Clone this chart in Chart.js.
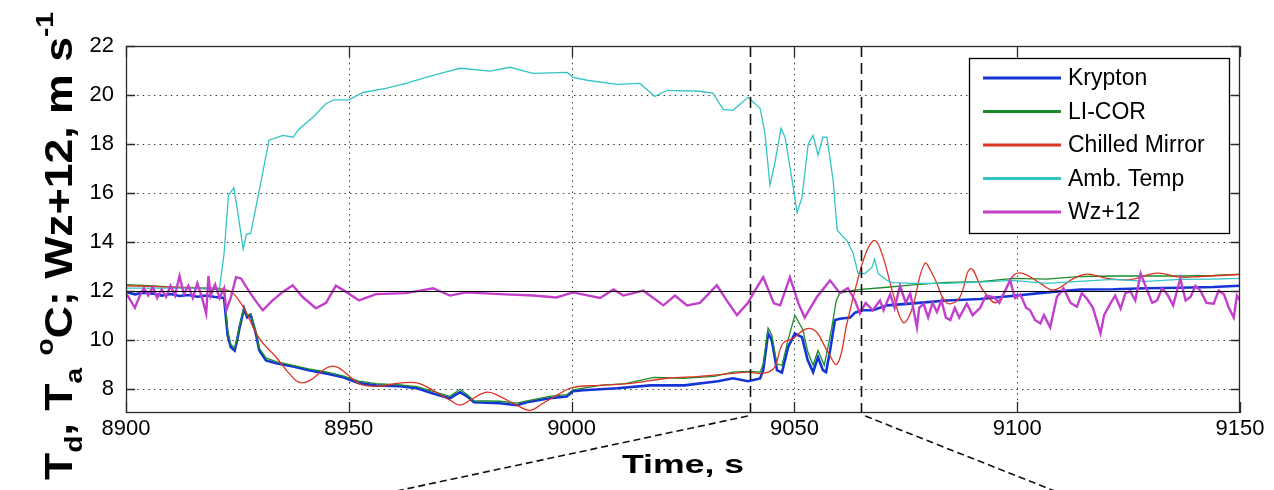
<!DOCTYPE html>
<html>
<head>
<meta charset="utf-8">
<script src="https://cdn.jsdelivr.net/npm/chart.js@4.4.1/dist/chart.umd.min.js"></script>
<style>
  html, body { margin: 0; padding: 0; background: #fff; }
  #wrap { width: 1274px; height: 490px; }
</style>
</head>
<body>
<div id="wrap"><canvas id="chart" width="1274" height="490"></canvas></div>
<script>
// axis ticks
const xTickValues = [8900, 8950, 9000, 9050, 9100, 9150];
const yTickValues = [8, 10, 12, 14, 16, 18, 20, 22];

// zoom window and reference level
const zoomWindow = [9040, 9065];
const refLevel = 12;

const seriesNames = ["Krypton", "LI-COR", "Chilled Mirror", "Amb. Temp", "Wz+12"];
const seriesColors = ["#1434d6", "#1b8c2b", "#dd3322", "#33c5c5", "#c23fcc"];

// Krypton hygrometer dew point
const kryptonTime = [8900, 8902, 8904, 8906, 8908, 8910, 8912, 8914, 8916, 8918,
  8920, 8922, 8922.8, 8923.5, 8924.4, 8925, 8925.5, 8926.5, 8927.2, 8928,
  8929.2, 8929.9, 8931.4, 8933.7, 8937.5, 8941, 8944.9, 8948.7, 8952.3, 8956.1,
  8961.5, 8965.3, 8968.9, 8972.7, 8974, 8975, 8976.6, 8978.1, 8983.9, 8987.7,
  8990, 8995.1, 8998.9, 9000.3, 9002.6, 9010.2, 9017.7, 9025.3, 9032.8, 9036.2,
  9039.6, 9042.3, 9043, 9044.1, 9044.9, 9046.1, 9047.2, 9048.6, 9050.1, 9051.7,
  9053, 9054.2, 9055.3, 9056.4, 9057.1, 9058, 9059.1, 9060.2, 9062.5, 9063.6,
  9065.2, 9067.6, 9070.8, 9076.6, 9084.2, 9091.7, 9099.9, 9106.7, 9114.2, 9121.6,
  9129, 9136.5, 9144, 9150];
const kryptonTemp = [11.95, 11.85, 11.92, 11.88, 11.8, 11.86, 11.78, 11.82, 11.75, 11.8,
  11.74, 11.7, 10.2, 9.7, 9.55, 10.04, 10.5, 11.27, 10.9, 11.0,
  10.2, 9.56, 9.15, 9.03, 8.9, 8.75, 8.62, 8.46, 8.22, 8.13,
  8.1, 8.01, 7.8, 7.6, 7.75, 7.85, 7.67, 7.44, 7.4, 7.32,
  7.44, 7.6, 7.67, 7.89, 7.93, 8.01, 8.13, 8.13, 8.3, 8.42,
  8.3, 8.41, 8.75, 10.25, 10.0, 8.75, 8.65, 9.7, 10.25, 10.1,
  9.15, 8.67, 9.28, 8.75, 8.67, 9.55, 10.8, 10.85, 10.9, 11.1,
  11.2, 11.2, 11.4, 11.48, 11.6, 11.66, 11.8, 11.93, 12.05, 12.06,
  12.1, 12.12, 12.15, 12.2];

// LI-COR dew point
const licorTime = [8900, 8905, 8910, 8915, 8920, 8922, 8922.8, 8923.5, 8924.4, 8925,
  8925.5, 8926.5, 8927.2, 8928, 8929.2, 8929.9, 8931.4, 8933.7, 8937.5, 8941,
  8944.9, 8948.7, 8952.3, 8956.1, 8961.5, 8965.3, 8968.9, 8972.7, 8974, 8975,
  8976.6, 8978.1, 8983.9, 8987.7, 8990, 8995.1, 8998.9, 9000.3, 9006.4, 9012,
  9018.5, 9025, 9032, 9036.2, 9039.6, 9042.3, 9043, 9044.1, 9044.9, 9046.1,
  9047.2, 9048.6, 9050.1, 9051.9, 9053, 9054.2, 9055.3, 9056.7, 9058.3, 9059.4,
  9060.2, 9062.7, 9065, 9070.8, 9076.6, 9084.2, 9091.7, 9099.2, 9106.7, 9114.2,
  9121.6, 9129, 9136.5, 9144, 9150];
const licorTemp = [12.25, 12.2, 12.15, 12.1, 12.05, 12.0, 10.4, 9.8, 9.65, 10.1,
  10.6, 11.3, 11.0, 11.05, 10.3, 9.65, 9.25, 9.1, 8.95, 8.8,
  8.68, 8.52, 8.3, 8.2, 8.15, 8.08, 7.88, 7.68, 7.85, 7.97,
  7.75, 7.5, 7.48, 7.4, 7.5, 7.68, 7.75, 7.95, 8.13, 8.2,
  8.46, 8.42, 8.5, 8.67, 8.7, 8.67, 9.0, 10.47, 10.2, 9.0,
  8.95, 10.0, 11.0, 10.4, 9.5, 8.95, 9.56, 8.95, 10.4, 11.6,
  11.9, 12.0, 12.05, 12.14, 12.24, 12.34, 12.37, 12.5, 12.47, 12.58,
  12.6, 12.6, 12.6, 12.62, 12.68];

// chilled mirror dew point
const mirrorTime = [8900, 8910, 8920, 8922, 8924, 8926.5, 8929.9, 8933.7, 8936.6, 8938.8,
  8941, 8944.9, 8947.1, 8949.4, 8952.3, 8956, 8961.5, 8965.3, 8968.9, 8972.7,
  8975, 8977.2, 8981, 8983.9, 8987.7, 8990.7, 8993.6, 8997.4, 9000.3, 9006.4,
  9013.8, 9021.4, 9028.8, 9036.2, 9039.6, 9043, 9045.4, 9047.4, 9049.7, 9052.8,
  9055, 9057.3, 9059.6, 9061.8, 9064, 9066.3, 9068.1, 9069.9, 9072.1, 9074.4,
  9076.3, 9079.2, 9081.2, 9084.2, 9087, 9089.5, 9092.4, 9095.4, 9099.2, 9101.4,
  9105.2, 9108.2, 9112.7, 9115.7, 9120.2, 9125.4, 9131.4, 9136.6, 9141.1, 9150];
const mirrorTemp = [12.2, 12.15, 12.1, 12.05, 11.9, 11.27, 10.05, 9.28, 8.62, 8.26,
  8.3, 8.83, 8.9, 8.62, 8.2, 8.09, 8.22, 8.23, 7.93, 7.52,
  7.32, 7.52, 7.85, 7.68, 7.32, 7.11, 7.4, 7.8, 8.05, 8.13,
  8.22, 8.42, 8.5, 8.62, 8.67, 8.62, 8.83, 9.84, 10.05, 10.45,
  10.3, 9.56, 9.0, 10.66, 12.3, 13.65, 14.05, 13.37, 11.9, 10.7,
  11.2, 13.1, 12.6, 11.5, 11.7, 12.9, 12.0, 11.52, 12.63, 12.7,
  12.3, 12.03, 12.5, 12.68, 12.5, 12.45, 12.72, 12.55, 12.58, 12.66];

// ambient temperature
const ambTime = [8900, 8910, 8921, 8922, 8923, 8924.2, 8925, 8926.3, 8927, 8928,
  8929.9, 8932.1, 8935.2, 8937.5, 8938.8, 8942, 8944.9, 8946.7, 8950, 8953.2,
  8958.3, 8962.8, 8967.3, 8971, 8975, 8981.7, 8986.2, 8991.3, 8999, 9000.3,
  9003.5, 9010.2, 9015.3, 9018.7, 9021.4, 9028.8, 9031.7, 9034, 9036.2, 9039.6,
  9042.3, 9043.4, 9044.5, 9045.6, 9047, 9047.9, 9049.5, 9050.6, 9051.7, 9053.1,
  9054.2, 9055.3, 9056.4, 9057.3, 9058.7, 9059.6, 9061.8, 9063.2, 9064.3, 9065.8,
  9067.4, 9068, 9068.8, 9070.8, 9072, 9076.6, 9084.2, 9091.7, 9099, 9106.7,
  9114, 9121.5, 9129, 9136.5, 9144, 9150];
const ambTemp = [12.1, 12.1, 12.1, 13.5, 15.9, 16.2, 15.3, 13.7, 14.3, 14.35,
  16.1, 18.15, 18.35, 18.27, 18.6, 19.1, 19.65, 19.8, 19.8, 20.1,
  20.27, 20.47, 20.72, 20.9, 21.09, 20.97, 21.13, 20.88, 20.92, 20.72,
  20.6, 20.43, 20.47, 19.94, 20.19, 20.15, 20.07, 19.41, 19.37, 19.9,
  19.45, 18.43, 16.3, 17.2, 18.64, 18.27, 16.5, 15.2, 15.8, 18.0,
  18.35, 17.53, 18.27, 18.27, 16.5, 14.47, 14.05, 13.52, 12.7, 12.7,
  12.95, 13.3, 12.7, 12.42, 12.33, 12.3, 12.3, 12.35, 12.42, 12.3,
  12.38, 12.46, 12.38, 12.46, 12.47, 12.5];

// vertical wind + 12
const wzTime = [8900, 8901, 8902, 8903, 8904, 8905, 8906, 8907, 8908, 8909,
  8910, 8911, 8912, 8913, 8914, 8915, 8916, 8917, 8918, 8918.5,
  8919, 8920, 8921, 8922, 8922.5, 8923.5, 8924.7, 8925.8, 8927.7, 8929.5,
  8930.7, 8932.9, 8935.2, 8937.4, 8939.6, 8942.6, 8944.9, 8947.1, 8949.4, 8952.3,
  8956.1, 8962.8, 8966, 8968.9, 8972.7, 8976.3, 8983.9, 8991.4, 8996.6, 9000.3,
  9006.4, 9009.4, 9011.6, 9016.1, 9020.6, 9023.2, 9025.9, 9028.8, 9032.6, 9034.8,
  9037.1, 9039.6, 9040.8, 9043, 9045.4, 9046.8, 9049, 9050.9, 9052.3, 9055,
  9058, 9060.2, 9062, 9063.6, 9064.7, 9066, 9067.6, 9069.2, 9070, 9071.5,
  9072.5, 9073.7, 9075, 9076, 9077.5, 9078, 9079, 9080, 9081, 9082,
  9083, 9084, 9085, 9086, 9087, 9088.7, 9090, 9091.7, 9093, 9094.7,
  9096, 9098.4, 9099.5, 9100.7, 9102, 9102.9, 9104, 9105.2, 9106, 9107.4,
  9108.9, 9110.4, 9112, 9113.4, 9114.5, 9115.7, 9117, 9118.7, 9119.5, 9120.9,
  9122, 9123.2, 9124.3, 9125.4, 9126.5, 9127.7, 9129.2, 9130.3, 9131.4, 9132.5,
  9133.7, 9135, 9136.6, 9137.8, 9138.9, 9140, 9141.1, 9142.5, 9144.1, 9145.2,
  9146.4, 9147.5, 9148.6, 9149.3, 9150];
const wzValue = [11.9, 11.6, 11.3, 11.75, 12.1, 11.8, 12.15, 11.7, 12.05, 11.75,
  12.2, 11.8, 12.6, 11.85, 12.2, 11.7, 12.3, 11.75, 11.07, 12.6,
  11.8, 12.25, 11.7, 12.1, 11.2, 11.7, 12.55, 12.5, 11.95, 11.48,
  11.2, 11.6, 11.95, 12.22, 11.75, 11.28, 11.5, 12.2, 11.95, 11.6,
  11.86, 11.9, 12.0, 12.1, 11.8, 11.93, 11.86, 11.8, 11.72, 11.93,
  11.7, 12.05, 11.8, 12.0, 11.4, 11.8, 11.4, 11.5, 12.22, 11.6,
  11.0, 11.5, 11.9, 12.55, 11.48, 11.4, 12.55, 11.48, 10.9, 11.73,
  12.42, 11.9, 12.1, 11.6, 11.07, 11.5, 11.2, 11.6, 11.2, 11.85,
  11.3, 12.2, 11.5, 11.9, 10.5, 11.3, 11.47, 10.9, 11.5, 11.13,
  11.6, 10.9, 10.8, 11.3, 10.9, 11.47, 11.0, 11.3, 11.8, 11.74,
  11.5, 12.42, 11.7, 11.85, 11.3, 11.2, 10.8, 10.66, 11.0, 10.5,
  11.74, 12.1, 11.5, 11.34, 11.9, 11.66, 11.3, 10.25, 11.0, 11.47,
  11.8, 11.27, 11.9, 11.98, 11.6, 12.7, 12.0, 11.5, 11.6, 12.1,
  11.85, 11.4, 12.5, 11.6, 11.74, 12.2, 12.0, 11.5, 11.47, 12.0,
  11.85, 11.3, 10.9, 11.8, 11.6];

const toPoints = (times, values) => times.map((t, i) => ({ x: t, y: values[i] }));

const seriesData = [
  toPoints(kryptonTime, kryptonTemp),
  toPoints(licorTime, licorTemp),
  toPoints(mirrorTime, mirrorTemp),
  toPoints(ambTime, ambTemp),
  toPoints(wzTime, wzValue)
];
const seriesWidths = [2.6, 1.3, 1.3, 1.3, 2.4];
const seriesTension = [0, 0, 0.4, 0, 0];
// later series sit on top, as in the original plot order
const seriesOrder = [5, 4, 3, 2, 1];

const FONT = "'Liberation Sans', Arial, Helvetica, sans-serif";

// draws a run list of [text, size, shift] along the current x direction
function drawRuns(ctx, runs) {
  let pos = 0;
  runs.forEach(([text, size, shift]) => {
    ctx.font = `bold ${size}px ${FONT}`;
    ctx.fillText(text, pos, shift);
    pos += ctx.measureText(text).width;
  });
  return pos;
}
function runsWidth(ctx, runs) {
  let w = 0;
  runs.forEach(([text, size]) => {
    ctx.font = `bold ${size}px ${FONT}`;
    w += ctx.measureText(text).width;
  });
  return w;
}

const decorPlugin = {
  id: "decor",
  beforeDatasetsDraw(chart) {
    const { ctx, chartArea: a, scales: { x, y } } = chart;
    ctx.save();
    ctx.strokeStyle = "#333";
    ctx.lineWidth = 1;
    ctx.setLineDash([1.4, 4.2]);
    xTickValues.slice(1, -1).forEach(v => {
      const px = Math.round(x.getPixelForValue(v)) + 0.5;
      ctx.beginPath(); ctx.moveTo(px, a.top); ctx.lineTo(px, a.bottom); ctx.stroke();
    });
    yTickValues.forEach(v => {
      if (v === 22) return;
      const py = Math.round(y.getPixelForValue(v)) + 0.5;
      ctx.beginPath(); ctx.moveTo(a.left, py); ctx.lineTo(a.right, py); ctx.stroke();
    });
    ctx.restore();
  },
  afterDatasetsDraw(chart) {
    const { ctx, chartArea: a, scales: { x, y } } = chart;
    ctx.save();

    // reference line
    const yRef = Math.round(y.getPixelForValue(refLevel)) + 0.5;
    ctx.strokeStyle = "#000";
    ctx.lineWidth = 1.2;
    ctx.beginPath(); ctx.moveTo(a.left, yRef); ctx.lineTo(a.right, yRef); ctx.stroke();

    // zoom window boundaries
    ctx.lineWidth = 1.6;
    ctx.strokeStyle = "#111";
    ctx.setLineDash([11, 6]);
    zoomWindow.forEach(v => {
      const px = Math.round(x.getPixelForValue(v)) + 0.5;
      ctx.beginPath(); ctx.moveTo(px, a.top); ctx.lineTo(px, a.bottom); ctx.stroke();
    });

    // connector lines below the axis
    ctx.setLineDash([7, 4]);
    ctx.lineWidth = 1.6;
    const x0 = x.getPixelForValue(zoomWindow[0]);
    const x1 = x.getPixelForValue(zoomWindow[1]);
    ctx.beginPath(); ctx.moveTo(x0 - 2, a.bottom + 3); ctx.lineTo(x0 - 358, 492); ctx.stroke();
    ctx.beginPath(); ctx.moveTo(x1 + 4, a.bottom + 3); ctx.lineTo(x1 + 196, 492); ctx.stroke();
    ctx.setLineDash([]);

    // box and inward ticks
    ctx.strokeStyle = "#2a2a2a";
    ctx.lineWidth = 1.3;
    ctx.strokeRect(a.left + 0.5, a.top + 0.5, a.width - 1, a.height - 1);
    ctx.beginPath();
    xTickValues.forEach(v => {
      const px = Math.round(x.getPixelForValue(v)) + 0.5;
      ctx.moveTo(px, a.bottom); ctx.lineTo(px, a.bottom - 11);
      ctx.moveTo(px, a.top); ctx.lineTo(px, a.top + 11);
    });
    yTickValues.forEach(v => {
      const py = Math.round(y.getPixelForValue(v)) + 0.5;
      ctx.moveTo(a.left, py); ctx.lineTo(a.left + 9, py);
      ctx.moveTo(a.right, py); ctx.lineTo(a.right - 9, py);
    });
    ctx.stroke();

    // legend
    const lg = { left: 969, top: 58, width: 260, height: 175 };
    ctx.fillStyle = "#fff";
    ctx.fillRect(lg.left, lg.top, lg.width, lg.height);
    ctx.strokeStyle = "#000";
    ctx.lineWidth = 1.3;
    ctx.strokeRect(lg.left + 0.5, lg.top + 0.5, lg.width, lg.height);
    ctx.font = `23px ${FONT}`;
    ctx.textBaseline = "middle";
    ctx.textAlign = "left";
    seriesNames.forEach((name, i) => {
      const rowY = lg.top + 20 + i * 33.5;
      ctx.strokeStyle = seriesColors[i];
      ctx.lineWidth = 3;
      ctx.beginPath(); ctx.moveTo(983, rowY); ctx.lineTo(1061, rowY); ctx.stroke();
      ctx.fillStyle = "#000";
      ctx.fillText(name, 1068, rowY + 1);
    });

    // x axis title
    ctx.fillStyle = "#000";
    ctx.textBaseline = "alphabetic";
    ctx.font = `bold 26px ${FONT}`;
    ctx.save();
    ctx.translate(683, 473);
    const tw = ctx.measureText("Time, s").width;
    ctx.scale(122 / tw, 1);
    ctx.textAlign = "center";
    ctx.fillText("Time, s", 0, 0);
    ctx.restore();

    // y axis title with sub/superscripts
    const runs = [
      ["T", 38, 0], ["d", 24, 10], [", T", 38, 0], ["a", 24, 10], [" ", 38, 0],
      ["o", 24, -19], ["C; Wz+12, m s", 38, 0], ["-1", 24, -19]
    ];
    ctx.save();
    ctx.translate(72, 480);
    ctx.rotate(-Math.PI / 2);
    const w = runsWidth(ctx, runs);
    ctx.scale(468 / w, 1);
    ctx.textAlign = "left";
    drawRuns(ctx, runs);
    ctx.restore();

    ctx.restore();
  }
};

new Chart(document.getElementById("chart"), {
  type: "line",
  data: {
    datasets: seriesNames.map((name, i) => ({
      label: name,
      data: seriesData[i],
      borderColor: seriesColors[i],
      backgroundColor: seriesColors[i],
      borderWidth: seriesWidths[i],
      pointRadius: 0,
      tension: seriesTension[i],
      order: seriesOrder[i]
    }))
  },
  options: {
    responsive: false,
    animation: false,
    layout: { padding: { top: 46, right: 34, left: 0, bottom: 0 } },
    plugins: { legend: { display: false }, tooltip: { enabled: false } },
    scales: {
      x: {
        type: "linear",
        min: 8900,
        max: 9150,
        afterBuildTicks: s => { s.ticks = xTickValues.map(v => ({ value: v })); },
        afterFit: s => { s.height = 77; },
        grid: { display: false, drawTicks: false },
        border: { display: false },
        ticks: {
          color: "#000",
          font: { family: FONT, size: 22 },
          padding: 3,
          maxRotation: 0,
          autoSkip: false,
          callback: v => String(v)
        }
      },
      y: {
        min: 7,
        max: 22,
        afterBuildTicks: s => { s.ticks = yTickValues.map(v => ({ value: v })); },
        afterFit: s => { s.width = 126; },
        grid: { display: false, drawTicks: false },
        border: { display: false },
        ticks: {
          color: "#000",
          font: { family: FONT, size: 22 },
          padding: 12,
          autoSkip: false,
          callback: v => String(v)
        }
      }
    }
  },
  plugins: [decorPlugin]
});
</script>
</body>
</html>
